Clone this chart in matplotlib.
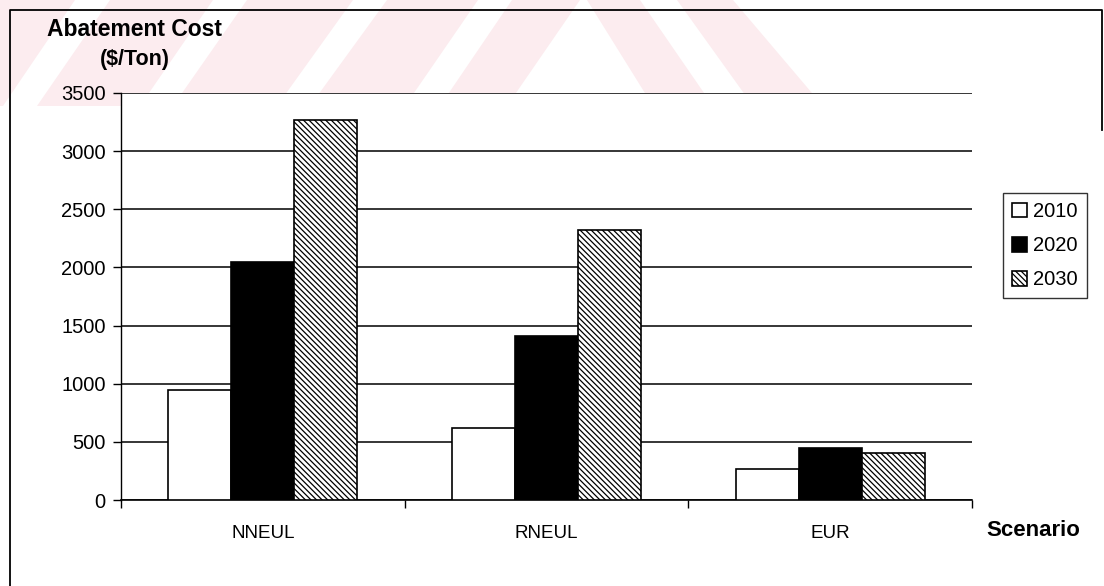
import matplotlib
matplotlib.use("Agg")
import matplotlib.pyplot as plt
from matplotlib.patches import Polygon
import numpy as np

plt.rcParams["font.family"] = ["Liberation Sans", "DejaVu Sans"]
plt.rcParams["hatch.linewidth"] = 0.9

# --- data ---
scenarios = ["NNEUL", "RNEUL", "EUR"]
years = ["2010", "2020", "2030"]
cost_2010 = [950, 620, 270]
cost_2020 = [2050, 1410, 450]
cost_2030 = [3270, 2320, 400]
y_ticks = [0, 500, 1000, 1500, 2000, 2500, 3000, 3500]

W, H = 1104, 586
fig = plt.figure(figsize=(W / 100, H / 100), dpi=100)

# background layer in pixel coords: faint pink stamp + outer frame
bg = fig.add_axes([0, 0, 1, 1], zorder=-5)
bg.set_xlim(0, W)
bg.set_ylim(H, 0)
bg.axis("off")
pink = "#fcecef"
top_y, bot_y = 0, 106
stamp = [
    [(0, bot_y), (3, bot_y), (75, top_y), (0, top_y)],
    [(37, bot_y), (140, bot_y), (213, top_y), (110, top_y)],
    [(173, bot_y), (277, bot_y), (353, top_y), (247, top_y)],
    [(310, bot_y), (405, bot_y), (478, top_y), (387, top_y)],
    [(440, bot_y), (507, bot_y), (580, top_y), (512, top_y)],
    [(653, bot_y), (713, bot_y), (640, top_y), (587, top_y)],
    [(753, bot_y), (823, bot_y), (733, top_y), (677, top_y)],
]
for pts in stamp:
    bg.add_patch(Polygon(pts, closed=True, facecolor=pink, edgecolor="none"))
bg.plot([10, 10, 1102, 1102], [H, 10, 10, 130], color="black", lw=1.3)

# main chart
ax = fig.add_axes([121 / W, 1 - 500 / H, (972 - 121) / W, (500 - 93) / H])
x = np.arange(len(scenarios))
bw = 1 / 4.5
ax.bar(x - bw, cost_2010, bw, color="white", edgecolor="black", lw=1.2, label=years[0], zorder=3)
ax.bar(x, cost_2020, bw, color="black", edgecolor="black", lw=1.2, label=years[1], zorder=3)
ax.bar(x + bw, cost_2030, bw, color="white", edgecolor="black", lw=1.2,
       hatch="\\\\\\\\\\\\", label=years[2], zorder=3)

ax.set_xlim(-0.5, len(scenarios) - 0.5)
ax.set_ylim(0, 3500)
ax.set_yticks(y_ticks)
ax.set_yticklabels([str(v) for v in y_ticks], fontsize=14.5)
ax.yaxis.grid(True, color="black", lw=1.1, zorder=0)
ax.set_axisbelow(True)

ax.set_xticks(x)
ax.set_xticklabels(scenarios, fontsize=13.5)
ax.set_xticks(np.arange(-0.5, len(scenarios)), minor=True)
ax.tick_params(axis="x", which="major", length=0, pad=18)
ax.tick_params(axis="x", which="minor", length=6, width=1, direction="out")
ax.tick_params(axis="y", length=6, width=1, direction="out", pad=5)

for s in ["top", "right"]:
    ax.spines[s].set_visible(False)
ax.spines["left"].set_linewidth(1.0)
ax.spines["bottom"].set_linewidth(1.2)

fig.text(47 / W, 1 - 29 / H, "Abatement Cost", fontsize=16.5, fontweight="bold", va="center", ha="left")
fig.text(135 / W, 1 - 59 / H, "($/Ton)", fontsize=15.5, fontweight="bold", va="center", ha="center")
fig.text(1033 / W, 1 - 530 / H, "Scenario", fontsize=16, fontweight="bold", va="center", ha="center")

leg = fig.legend(loc="upper left", bbox_to_anchor=(1003 / W, 1 - 193 / H), fontsize=14.5,
                 frameon=True, fancybox=False, edgecolor="black", handlelength=0.75,
                 handleheight=0.75, handletextpad=0.3, borderpad=0.45, labelspacing=0.75,
                 borderaxespad=0)
leg.get_frame().set_linewidth(1.0)

fig.savefig("out.png", dpi=100, facecolor="white")
